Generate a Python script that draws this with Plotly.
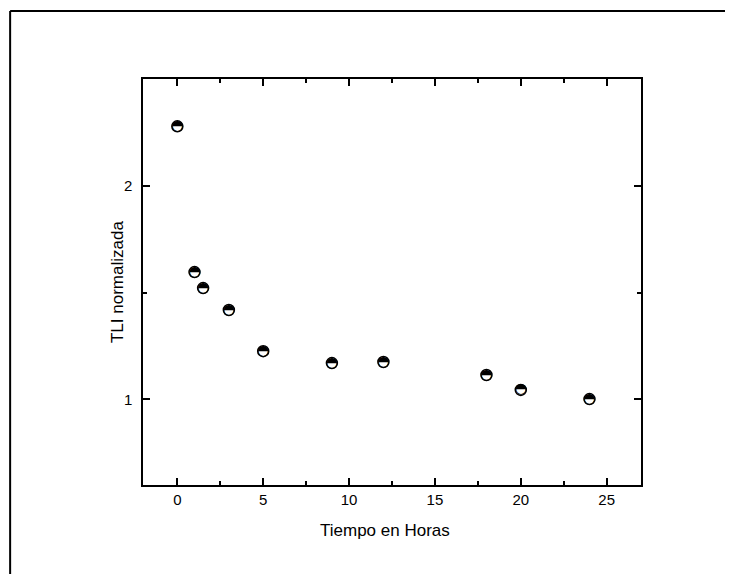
import plotly.graph_objects as go

# Data
tiempo_horas = [0, 1, 1.5, 3, 5, 9, 12, 18, 20, 24]
tli_normalizada = [2.281, 1.597, 1.522, 1.419, 1.226, 1.170, 1.175, 1.114, 1.044, 1.001]

x_ticks = [0, 5, 10, 15, 20, 25]
y_ticks = [1, 2]

fig = go.Figure()

# white circle with black outline (base of the half-filled marker)
fig.add_trace(go.Scatter(
    x=tiempo_horas, y=tli_normalizada, mode="markers",
    marker=dict(symbol="circle", size=11, color="white",
                line=dict(color="black", width=1.5)),
    showlegend=False, hoverinfo="skip"))

# upper half black glyph
fig.add_trace(go.Scatter(
    x=tiempo_horas, y=tli_normalizada, mode="text",
    text=["\u25D3"] * len(tiempo_horas), textposition="middle center",
    textfont=dict(family="DejaVu Sans", size=14, color="black"),
    showlegend=False, hoverinfo="skip"))

axis_common = dict(
    showline=True, linecolor="black", linewidth=1.5, mirror="allticks",
    ticks="inside", ticklen=7, tickwidth=1.5, tickcolor="black",
    showgrid=False, zeroline=False,
    tickfont=dict(family="Liberation Sans, Arial", size=15, color="black"),
)

# page body has an 8px margin: plot area at (143,79)-(641.5,485) in the window
L, T, PW, PH = 135, 71, 498.5, 406
W, H = 725, 566

fig.update_xaxes(
    range=[-2, 27], tickvals=x_ticks, ticktext=[str(v) for v in x_ticks],
    minor=dict(ticks="inside", ticklen=4, tickwidth=1.5, tickcolor="black", dtick=2.5),
    **axis_common)
fig.update_yaxes(
    range=[0.598, 2.503], tickvals=y_ticks, ticktext=[str(v) for v in y_ticks],
    minor=dict(ticks="inside", ticklen=4, tickwidth=1.5, tickcolor="black", dtick=0.5),
    ticklabelstandoff=6,
    **axis_common)

title_font = dict(family="Liberation Sans, Arial", size=17, color="black")
fig.add_annotation(text="Tiempo en Horas", xref="paper", yref="paper",
                   x=(385 - 143) / PW, y=-(530 - 485) / PH,
                   xanchor="center", yanchor="middle", showarrow=False, font=title_font)
fig.add_annotation(text="TLI normalizada", xref="paper", yref="paper",
                   x=-(143 - 117) / PW, y=0.5, textangle=-90,
                   xanchor="center", yanchor="middle", showarrow=False, font=title_font)

# outer page frame (only top and left edges are visible)
frame_line = dict(color="black", width=2)
fig.add_shape(type="line", xref="paper", yref="paper",
              x0=(2 - L) / PW, x1=(800 - L) / PW,
              y0=1 + (T - 3) / PH, y1=1 + (T - 3) / PH, line=frame_line, layer="below")
fig.add_shape(type="line", xref="paper", yref="paper",
              x0=(2 - L) / PW, x1=(2 - L) / PW,
              y0=1 + (T - 3) / PH, y1=(T + PH - 700) / PH, line=frame_line, layer="below")

fig.update_layout(
    width=W, height=H,
    margin=dict(l=L, r=W - L - PW, t=T, b=H - T - PH),
    paper_bgcolor="white", plot_bgcolor="white",
    showlegend=False,
)

fig.write_html("out.html")
